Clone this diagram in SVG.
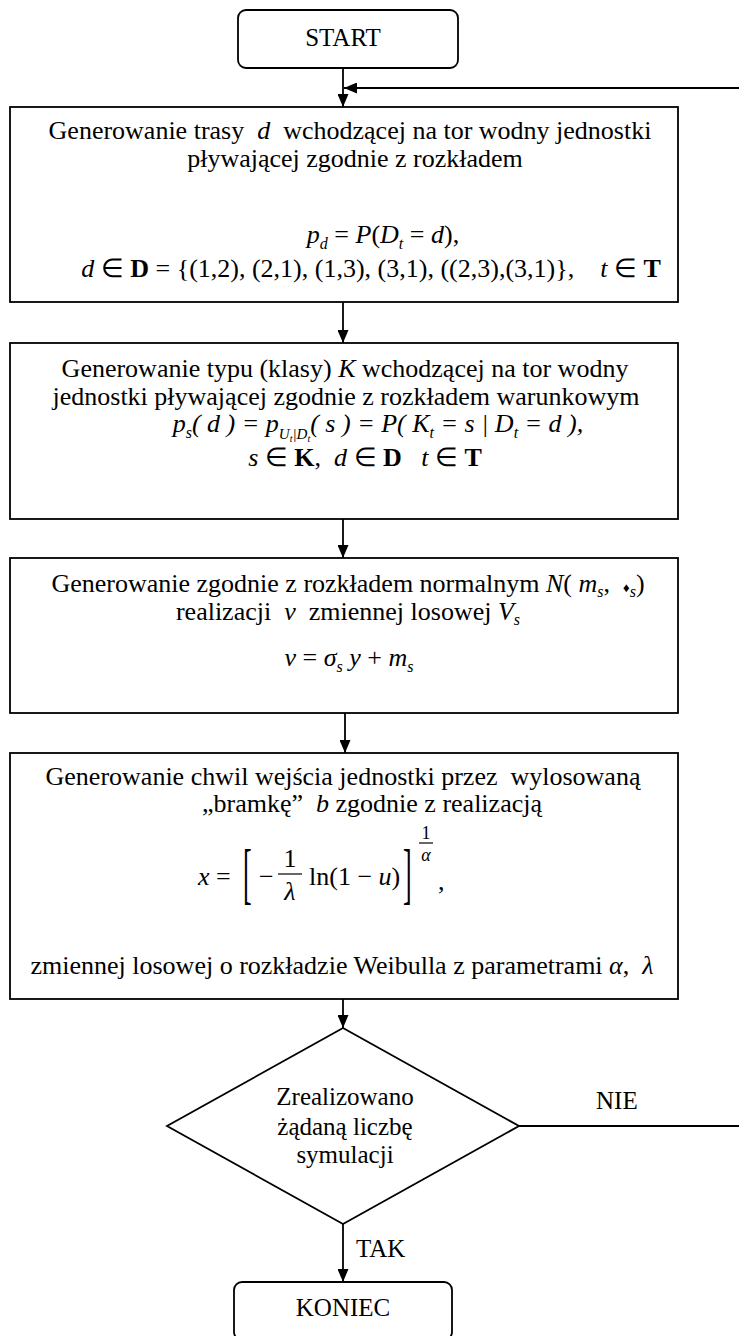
<svg xmlns="http://www.w3.org/2000/svg" width="739" height="1336" viewBox="0 0 739 1336">
<style>
.box{fill:#fff;stroke:#000;stroke-width:1.8}
.ln{fill:none;stroke:#000;stroke-width:1.8}
.bar{stroke:#000;stroke-width:1.2}
text{font-family:"Liberation Serif","Times New Roman",serif;font-size:26px;fill:#000}
.c{text-anchor:middle}
.i{font-style:italic}
.b{font-weight:bold}
.s{font-size:16px;font-style:italic}
.sm{font-size:25px}
.ex{font-size:18px}
.dm{font-size:13px}
</style>
<defs>
<marker id="ah" viewBox="0 0 13 11" refX="13" refY="5.5" markerWidth="13" markerHeight="11" markerUnits="userSpaceOnUse" orient="auto"><path d="M0,0 L13,5.5 L0,11 z" fill="#000"/></marker>
</defs>
<rect width="739" height="1336" fill="#fff"/>

<g id="connectors">
<line class="ln" x1="343" y1="68" x2="343" y2="107" marker-end="url(#ah)"/>
<line class="ln" x1="739" y1="88" x2="344" y2="88" marker-end="url(#ah)"/>
<line class="ln" x1="343" y1="302" x2="343" y2="343" marker-end="url(#ah)"/>
<line class="ln" x1="343" y1="519" x2="343" y2="558" marker-end="url(#ah)"/>
<line class="ln" x1="345" y1="713" x2="345" y2="753" marker-end="url(#ah)"/>
<line class="ln" x1="343" y1="999" x2="343" y2="1028" marker-end="url(#ah)"/>
<line class="ln" x1="343" y1="1224" x2="343" y2="1282" marker-end="url(#ah)"/>
<line class="ln" x1="519" y1="1126" x2="739" y2="1126"/>
<text class="sm" x="596" y="1109">NIE</text>
<text class="sm" x="356" y="1257">TAK</text>
</g>

<g id="start">
<rect class="box" x="238" y="10" width="220" height="58" rx="8"/>
<text class="c sm" x="343" y="46">START</text>
</g>

<g id="box1">
<rect class="box" x="10" y="107" width="668" height="195"/>
<text class="c" x="350" y="139">Generowanie trasy&#160; <tspan class="i">d</tspan>&#160; wchodzącej na tor wodny jednostki</text>
<text class="c" x="355" y="167">pływającej zgodnie z rozkładem</text>
<text class="c" x="383" y="243"><tspan class="i">p</tspan><tspan class="s" dy="6">d</tspan><tspan dy="-6"> = </tspan><tspan class="i">P</tspan>(<tspan class="i">D</tspan><tspan class="s" dy="6">t</tspan><tspan dy="-6"> = </tspan><tspan class="i">d</tspan>),</text>
<text class="c" x="371" y="277"><tspan class="i">d</tspan> ∈ <tspan class="b">D</tspan> = {(1,2), (2,1), (1,3), (3,1), ((2,3),(3,1)},&#160;&#160;&#160; <tspan class="i">t</tspan> ∈ <tspan class="b">T</tspan></text>
</g>

<g id="box2">
<rect class="box" x="10" y="343" width="668" height="176"/>
<text class="c" x="345" y="377">Generowanie typu (klasy) <tspan class="i">K</tspan> wchodzącej na tor wodny</text>
<text class="c" x="346" y="405">jednostki pływającej zgodnie z rozkładem warunkowym</text>
<text class="c i" x="378" y="432">p<tspan class="s" dy="6">s</tspan><tspan dy="-6">( d ) = p</tspan><tspan font-size="15" dy="7">U</tspan><tspan font-size="10" dy="3">t</tspan><tspan font-size="15" dy="-3">|D</tspan><tspan font-size="10" dy="3">t</tspan><tspan dy="-10">( s ) = P( K</tspan><tspan class="s" dy="6">t</tspan><tspan dy="-6"> = s | D</tspan><tspan class="s" dy="6">t</tspan><tspan dy="-6"> = d ),</tspan></text>
<text class="c" x="365" y="466"><tspan class="i">s</tspan> ∈ <tspan class="b">K</tspan>,&#160; <tspan class="i">d</tspan> ∈ <tspan class="b">D</tspan>&#160;&#160; <tspan class="i">t</tspan> ∈ <tspan class="b">T</tspan></text>
</g>

<g id="box3">
<rect class="box" x="10" y="558" width="668" height="155"/>
<text class="c" x="348" y="592">Generowanie zgodnie z rozkładem normalnym <tspan class="i">N</tspan>( <tspan class="i">m</tspan><tspan class="s" dy="5">s</tspan><tspan dy="-5">,&#160; </tspan><tspan class="dm">♦</tspan><tspan class="s" dy="5">s</tspan><tspan dy="-5">)</tspan></text>
<text class="c" x="348" y="620">realizacji&#160; <tspan class="i">v</tspan>&#160; zmiennej losowej <tspan class="i">V</tspan><tspan class="s" dy="5">s</tspan></text>
<text class="c" x="349" y="666"><tspan class="i">v</tspan> = <tspan class="i">σ</tspan><tspan class="s" dy="6">s</tspan><tspan class="i" dy="-6"> y</tspan> + <tspan class="i">m</tspan><tspan class="s" dy="6">s</tspan></text>
</g>

<g id="box4">
<rect class="box" x="10" y="753" width="668" height="246"/>
<text class="c" x="343" y="785">Generowanie chwil wejścia jednostki przez&#160; wylosowaną</text>
<text class="c" x="372" y="812">„bramkę”&#160; <tspan class="i">b</tspan> zgodnie z realizacją</text>
<text class="i" x="198" y="885">x</text>
<text x="216" y="885">=</text>
<text transform="translate(243,896) scale(1,2.6)">[</text>
<text x="259" y="885">−</text>
<text class="c" x="290" y="867">1</text>
<line class="bar" x1="278" y1="874" x2="302" y2="874"/>
<text class="c i" x="290" y="900">λ</text>
<text x="309" y="885">ln(1 − <tspan class="i">u</tspan>)</text>
<text transform="translate(403,896) scale(1,2.6)">]</text>
<text class="c ex" x="426" y="839">1</text>
<line class="bar" x1="419" y1="843" x2="433" y2="843" stroke-width="1"/>
<text class="c i ex" x="426" y="861">α</text>
<text x="438" y="890">,</text>
<text class="c" x="342" y="974">zmiennej losowej o rozkładzie Weibulla z parametrami <tspan class="i">α</tspan>,&#160; <tspan class="i">λ</tspan></text>
</g>

<g id="decision">
<polygon class="box" points="343,1028 519,1126 343,1224 167,1126"/>
<text class="c sm" x="345" y="1105">Zrealizowano</text>
<text class="c sm" x="345" y="1135">żądaną liczbę</text>
<text class="c sm" x="345" y="1163">symulacji</text>
</g>

<g id="koniec">
<rect class="box" x="234" y="1282" width="218" height="58" rx="8"/>
<text class="c sm" x="343" y="1316">KONIEC</text>
</g>
</svg>
